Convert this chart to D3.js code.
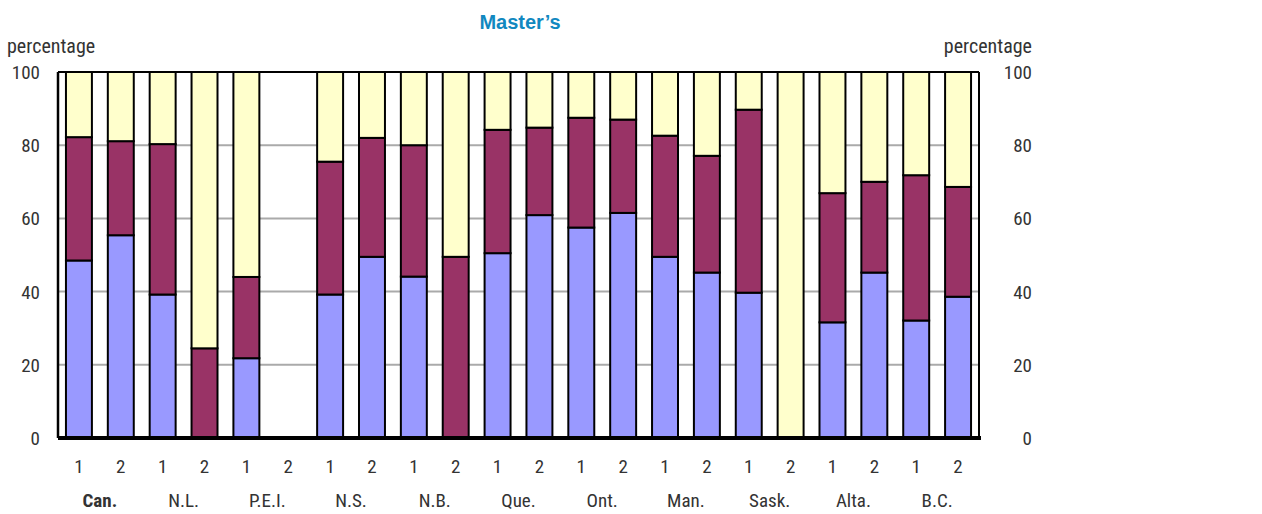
<!DOCTYPE html>
<html>
<head>
<meta charset="utf-8">
<script src="https://cdn.jsdelivr.net/npm/d3@7"></script>
<style>
  body { margin: 0; background: #fff; }
  text { font-family: "Liberation Sans Narrow", "Roboto Condensed", "Arial Narrow", Roboto, sans-serif; fill: #333; }
</style>
</head>
<body>
<div id="chart"></div>
<script>
// Data
const provinces = ["Can.", "N.L.", "P.E.I.", "N.S.", "N.B.", "Que.", "Ont.", "Man.", "Sask.", "Alta.", "B.C."];
const groups = ["1", "2"];
// bottom segment (blue), middle (maroon), top (yellow), per province x group
const blueVals   = [48.5, 55.4, 39.2, 0, 21.8, 0, 39.2, 49.5, 44.1, 0, 50.5, 60.9, 57.5, 61.5, 49.5, 45.2, 39.7, 0, 31.6, 45.2, 32.1, 38.6];
const maroonVals = [33.7, 25.7, 41.1, 24.5, 22.2, 0, 36.3, 32.5, 35.9, 49.5, 33.7, 23.9, 30.0, 25.5, 33.1, 31.9, 50.0, 0, 35.3, 24.8, 39.7, 30.0];
const yellowVals = [17.8, 18.9, 19.7, 75.5, 56.0, 0, 24.5, 18.0, 20.0, 50.5, 15.8, 15.2, 12.5, 13.0, 17.4, 22.9, 10.3, 100, 33.1, 30.0, 28.2, 31.4];
const yTicks = [0, 20, 40, 60, 80, 100];

const width = 1262, height = 514;
const margin = {top: 72, right: 283, bottom: 76, left: 58};

const svg = d3.select("#chart").append("svg")
  .attr("width", width)
  .attr("height", height);

const slots = [];
provinces.forEach(p => groups.forEach(g => slots.push(p + "|" + g)));

const rows = slots.map((k, i) => ({key: k, blue: blueVals[i], maroon: maroonVals[i], yellow: yellowVals[i]}));

const x = d3.scaleBand()
  .domain(slots)
  .range([margin.left, width - margin.right])
  .paddingInner(0.38)
  .paddingOuter(0.19);

const y = d3.scaleLinear()
  .domain([0, 100])
  .range([height - margin.bottom, margin.top]);

// Gridlines
svg.append("g")
  .selectAll("line")
  .data(yTicks.filter(d => d > 0 && d < 100))
  .enter()
  .append("line")
  .attr("x1", margin.left)
  .attr("x2", width - margin.right)
  .attr("y1", d => y(d))
  .attr("y2", d => y(d))
  .attr("stroke", "#aaa")
  .attr("stroke-width", 2);

// Stacked bars
const stack = d3.stack().keys(["blue", "maroon", "yellow"]);
const colors = {blue: "#9999ff", maroon: "#993366", yellow: "#ffffcc"};

svg.append("g")
  .selectAll("g")
  .data(stack(rows))
  .enter()
  .append("g")
  .attr("fill", d => colors[d.key])
  .selectAll("rect")
  .data(d => d.filter(s => s[1] - s[0] > 0))
  .enter()
  .append("rect")
  .attr("x", d => x(d.data.key))
  .attr("width", x.bandwidth())
  .attr("y", d => y(d[1]))
  .attr("height", d => y(d[0]) - y(d[1]))
  .attr("stroke", "#000")
  .attr("stroke-width", 2);

// Frame
svg.append("line")
  .attr("x1", margin.left).attr("x2", width - margin.right)
  .attr("y1", y(100)).attr("y2", y(100))
  .attr("stroke", "#000").attr("stroke-width", 2);
svg.append("line")
  .attr("x1", width - margin.right).attr("x2", width - margin.right)
  .attr("y1", y(100)).attr("y2", y(0))
  .attr("stroke", "#000").attr("stroke-width", 2);
svg.append("line")
  .attr("x1", margin.left).attr("x2", margin.left)
  .attr("y1", y(100)).attr("y2", y(0))
  .attr("stroke", "#000").attr("stroke-width", 2.5);
svg.append("line")
  .attr("x1", margin.left).attr("x2", width - margin.right + 2)
  .attr("y1", y(0)).attr("y2", y(0))
  .attr("stroke", "#000").attr("stroke-width", 4);

// Y tick labels, left and right
svg.append("g")
  .selectAll("text")
  .data(yTicks)
  .enter()
  .append("text")
  .attr("x", 40)
  .attr("y", d => y(d) + 7)
  .attr("text-anchor", "end")
  .attr("font-size", "19px")
  .text(d => d);

svg.append("g")
  .selectAll("text")
  .data(yTicks)
  .enter()
  .append("text")
  .attr("x", 1032)
  .attr("y", d => y(d) + 7)
  .attr("text-anchor", "end")
  .attr("font-size", "19px")
  .text(d => d);

svg.append("text")
  .attr("x", 7).attr("y", 53)
  .attr("font-size", "20px")
  .text("percentage");
svg.append("text")
  .attr("x", 1032).attr("y", 53)
  .attr("text-anchor", "end")
  .attr("font-size", "20px")
  .text("percentage");

// X labels: group numbers
svg.append("g")
  .selectAll("text")
  .data(slots)
  .enter()
  .append("text")
  .attr("x", d => x(d) + x.bandwidth() / 2)
  .attr("y", 473)
  .attr("text-anchor", "middle")
  .attr("font-size", "19px")
  .text(d => d.split("|")[1]);

// X labels: provinces
svg.append("g")
  .selectAll("text")
  .data(provinces)
  .enter()
  .append("text")
  .attr("x", d => (x(d + "|1") + x(d + "|2") + x.bandwidth()) / 2)
  .attr("y", 507)
  .attr("text-anchor", "middle")
  .attr("font-size", "19px")
  .attr("font-weight", d => d === "Can." ? "bold" : "normal")
  .text(d => d);

// Title
svg.append("text")
  .attr("x", 520).attr("y", 29)
  .attr("text-anchor", "middle")
  .style("font-family", "'Liberation Sans', Arial, sans-serif")
  .style("fill", "#1188c0")
  .attr("font-size", "20px")
  .attr("font-weight", "bold")
  .text("Master\u2019s");
</script>
</body>
</html>
